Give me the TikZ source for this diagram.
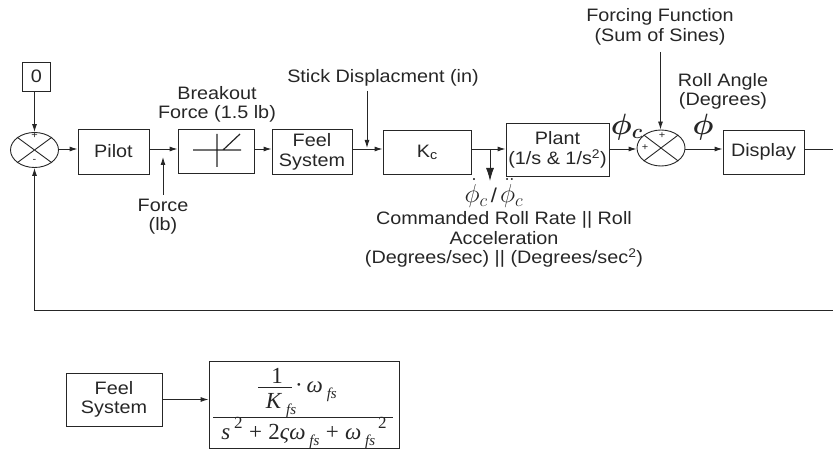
\documentclass[tikz,border=0pt]{standalone}
\usepackage{graphicx}
\usepackage{fontspec}
\setmainfont[FakeStretch=1.1]{Liberation Sans}
\newfontfamily\ser{Liberation Serif}
\usetikzlibrary{shapes.geometric,arrows.meta,calc}
\newcommand{\sbs}[1]{\raisebox{-0.26em}{\fontsize{15}{15}\selectfont\itshape #1}}
\newcommand{\sps}[1]{\raisebox{0.45em}{\fontsize{17}{17}\selectfont #1}}
\tikzset{
  x=1pt,y=-1pt,
  every node/.style={text=black!85,font=\fontsize{18}{19.6}\selectfont,inner sep=0pt,align=center},
  blockbox/.style={draw=black!85,line width=0.9pt},
  sumj/.style={draw=black!85,line width=0.9pt,ellipse,minimum width=48pt,minimum height=35pt},
  wire/.style={draw=black!85,line width=0.9pt},
  sig/.style={wire,-{Latex[length=8pt,width=5pt]}},
  bigsig/.style={wire,-{Latex[length=13pt,width=8pt]}},
  sgn/.style={font=\fontsize{10}{10}\selectfont},
  frm/.style={font=\fontsize{23}{23}\selectfont\ser}
}
\begin{document}
\begin{tikzpicture}
\useasboundingbox (0,0) rectangle (833,449);
\coordinate (lvl) at (0,149);
% blocks
\node[blockbox,minimum width=28pt,minimum height=29pt] (zero) at (36.5,76.5) {0};
\node[sumj] (s1) at (34.5,150) {};
\node[blockbox,minimum width=71pt,minimum height=45pt] (pilot) at (113.5,151.5) {Pilot};
\node[blockbox,minimum width=76pt,minimum height=44pt] (brk) at (216,151) {};
\node[blockbox,minimum width=80pt,minimum height=45pt] (feel) at (312,152) {Feel\\System};
\node[blockbox,minimum width=88pt,minimum height=44pt] (kc) at (427,152) {K\raisebox{-0.1em}{\fontsize{13}{13}\selectfont c}};
\node[blockbox,minimum width=103pt,minimum height=53pt] (plant) at (557.5,150) {Plant\\(1/s \& 1/s\textsuperscript{2})};
\node[sumj,minimum height=36pt] (s2) at (661,148) {};
\node[blockbox,minimum width=81pt,minimum height=44pt] (disp) at (763.5,152) {Display};
% summing junction crosses and signs
\draw[wire] (s1.north west) -- (s1.south east) (s1.north east) -- (s1.south west);
\draw[wire] (s2.north west) -- (s2.south east) (s2.north east) -- (s2.south west);
\node[sgn] (p1) at (34.5,136) {+};
\node[sgn] (m1) at (34.5,161) {-};
\node[sgn] (p2) at (662,136) {+};
\node[sgn] (p3) at (645,148) {+};
% breakout icon
\draw[wire,line width=1.2pt] (193,150) -- (241,150) (217,134) -- (217,167) (223,150) -- (240,134);
% labels
\node (lbrk) at (217,104.5) {Breakout\\Force (1.5 lb)};
\node (lforce) at (163,216.5) {Force\\(lb)};
\node (lstick) at (383,78) {Stick Displacment (in)};
\node (lforc) at (660,27) {Forcing Function\\(Sum of Sines)};
\node (lroll) at (723,91.5) {Roll Angle\\(Degrees)};
\node (lcmd) at (504,239.5) {Commanded Roll Rate || Roll\\Acceleration\\(Degrees/sec) || (Degrees/sec\textsuperscript{2})};
\node (phic) at (627,127) {\scalebox{1.7}{\boldmath$\phi_{c}$}};
\node (phi) at (703,127) {\scalebox{1.7}{\boldmath$\phi$}};
\node (rate) at (494,193) {\scalebox{1.5}{$\dot{\phi}_{c}$}\,{\fontsize{20}{20}\selectfont /}\,\scalebox{1.5}{$\ddot{\phi}_{c}$}};
% connectors
\draw[sig] (zero.south -| s1) -- (s1.north);
\draw[sig] (s1.east |- lvl) -- (pilot.west |- lvl);
\draw[sig] (pilot.east |- lvl) -- (brk.west |- lvl);
\draw[sig] (brk.east |- lvl) -- (feel.west |- lvl);
\draw[sig] (feel.east |- lvl) -- (kc.west |- lvl);
\draw[sig] (kc.east |- lvl) -- (plant.west |- lvl);
\draw[sig] (plant.east |- lvl) -- (s2.west |- lvl);
\draw[sig] (s2.east |- lvl) -- (disp.west |- lvl);
\coordinate (fhead) at (163,157);
\coordinate (ftail) at (163,195);
\draw[sig] (ftail) -- (fhead);
\coordinate (sthead) at (367,148);
\coordinate (sttail) at (367,91);
\draw[sig] (sttail) -- (sthead);
\coordinate (rtail) at (490,149);
\coordinate (rhead) at (490,181);
\draw[bigsig] (rtail) -- (rhead);
\coordinate (fftail) at (660.5,52);
\draw[sig] (fftail) -- (s2.north -| fftail);
\coordinate (outr) at (833,149);
\coordinate (fbr) at (833,310);
\coordinate (fbl) at (34.5,310);
\draw[wire] (disp.east |- lvl) -- (outr);
\draw[sig] (fbr) -- (fbl) -- (s1.south);
% lower detail
\node[blockbox,minimum width=96pt,minimum height=53pt] (feel2) at (114,399.5) {Feel\\System};
\node[blockbox,minimum width=190pt,minimum height=87pt] (tf) at (304,404.5) {};
\draw[sig] (feel2.east) -- (tf.west |- feel2);
\coordinate (barl) at (213,417);
\coordinate (barr) at (393,417);
\draw[wire] (barl) -- (barr);
\coordinate (fbl2) at (258,387);
\coordinate (fbr2) at (292,387);
\draw[wire] (fbl2) -- (fbr2);
\node[frm] (one) at (277,376) {1};
\node[frm] (kfs) at (281,406) {\textit{K}\,\sbs{fs}};
\node[frm,anchor=west] (wfs) at (295,392) {·\,\textit{ω}\,\sbs{fs}};
\node[frm] (den) at (304,433) {\textit{s}\,\sps{2}\;+\;2\textit{ςω}\,\sbs{fs}\;+\;\textit{ω}\,\sbs{fs}\sps{\,2}};
\end{tikzpicture}
\end{document}
